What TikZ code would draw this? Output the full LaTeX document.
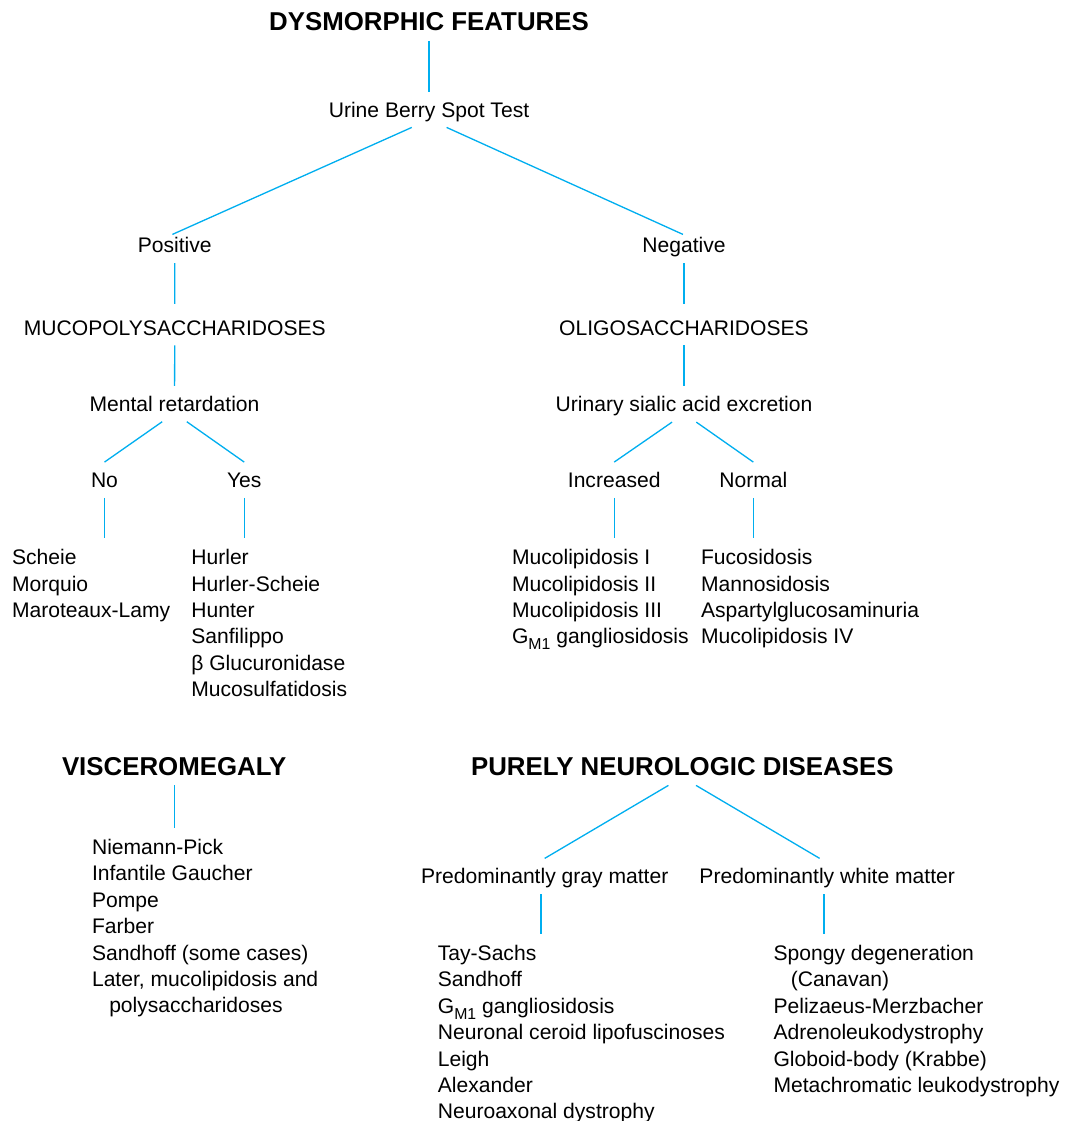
\documentclass[tikz,border=0pt]{standalone}
\usepackage{fontspec}
\setmainfont{Liberation Sans}
\definecolor{treeblue}{RGB}{0,174,239}
\newcommand{\gmone}{G\raisebox{-0.28em}{\fontsize{9pt}{9pt}\selectfont M1}}

\begin{document}
\begin{tikzpicture}[x=0.02cm, y=-0.02cm,
  heading/.style={font=\fontsize{14.7pt}{17pt}\selectfont\bfseries, inner xsep=0pt, inner ysep=5.7pt, text height=10.5pt, text depth=0pt},
  lbl/.style={font=\fontsize{12pt}{15pt}\selectfont, inner xsep=0pt, inner ysep=5.7pt, text height=8.6pt, text depth=0pt},
  lst/.style={font=\fontsize{12pt}{15pt}\selectfont, align=left, inner sep=0pt, anchor=north west},
  conn/.style={draw=treeblue, line width=0.75pt},
  tolist/.style={conn, shorten >=6.5pt}]
\useasboundingbox (0,0) rectangle (1068,1121);

% Dysmorphic features tree
\node[heading] (dysm) at (429,21.2) {DYSMORPHIC FEATURES};
\node[lbl] (berry) at (429,109.5) {Urine Berry Spot Test};
\node[lbl] (pos) at (174.7,245.3) {Positive};
\node[lbl] (neg) at (684,245.3) {Negative};
\node[lbl] (mps) at (174.8,327.5) {MUCOPOLYSACCHARIDOSES};
\node[lbl] (oligo) at (684,327.5) {OLIGOSACCHARIDOSES};
\node[lbl] (mental) at (174.5,403.8) {Mental retardation};
\node[lbl] (sialic) at (684,404.2) {Urinary sialic acid excretion};
\node[lbl] (no) at (104.5,480) {No};
\node[lbl] (yes) at (244.2,480) {Yes};
\node[lbl] (incr) at (614.2,480) {Increased};
\node[lbl] (normal) at (753.3,480) {Normal};

% Disease lists
\node[lst] (noList) at (11.7,549.3) {Scheie\\Morquio\\Maroteaux-Lamy};
\node[lst] (yesList) at (191,549.3) {Hurler\\Hurler-Scheie\\Hunter\\Sanfilippo\\β Glucuronidase\\Mucosulfatidosis};
\node[lst] (incrList) at (511.7,549.3) {Mucolipidosis I\\Mucolipidosis II\\Mucolipidosis III\\\gmone{} gangliosidosis};
\node[lst] (normList) at (700.7,549.3) {Fucosidosis\\Mannosidosis\\Aspartylglucosaminuria\\Mucolipidosis IV};

% Connectors
\draw[conn] (dysm) -- (berry);
\draw[conn] ([xshift=-9.8pt]berry.south) -- ([xshift=-1.3pt,yshift=-4pt]pos.north);
\draw[conn] ([xshift=10pt]berry.south) -- ([xshift=-0.6pt,yshift=-4pt]neg.north);
\draw[conn] (pos) -- ([yshift=3.2pt]mps.north);
\draw[conn] (neg) -- ([yshift=3.2pt]oligo.north);
\draw[conn] (mps) -- (mental);
\draw[conn] (oligo) -- (sialic);
\draw[conn] ([xshift=-7pt]mental.south) -- (no.north);
\draw[conn] ([xshift=7pt]mental.south) -- (yes.north);
\draw[conn] ([xshift=-6.8pt]sialic.south) -- (incr.north);
\draw[conn] ([xshift=7pt]sialic.south) -- (normal.north);
\draw[tolist] (no) -- (no |- noList.north);
\draw[tolist] (yes) -- (yes |- yesList.north);
\draw[tolist] (incr) -- (incr |- incrList.north);
\draw[tolist] (normal) -- (normal |- normList.north);

% Visceromegaly
\node[heading] (visc) at (174.2,765.8) {VISCEROMEGALY};
\node[lst] (viscList) at (91.7,839) {Niemann-Pick\\Infantile Gaucher\\Pompe\\Farber\\Sandhoff (some cases)\\Later, mucolipidosis and\\\hspace*{9.8pt}polysaccharidoses};
\draw[tolist] (visc) -- (visc |- viscList.north);

% Purely neurologic diseases
\node[heading] (neuro) at (682.3,765.8) {PURELY NEUROLOGIC DISEASES};
\node[lbl] (gray) at (544.7,876.3) {Predominantly gray matter};
\node[lbl] (white) at (827.2,876.3) {Predominantly white matter};
\node[lst] (grayList) at (437.5,945) {Tay-Sachs\\Sandhoff\\\gmone{} gangliosidosis\\Neuronal ceroid lipofuscinoses\\Leigh\\Alexander\\Neuroaxonal dystrophy};
\node[lst] (whiteList) at (773.2,945) {Spongy degeneration\\\hspace*{9.8pt}(Canavan)\\Pelizaeus-Merzbacher\\Adrenoleukodystrophy\\Globoid-body (Krabbe)\\Metachromatic leukodystrophy};
\coordinate (grayFoot) at ([xshift=-2.1pt]gray.south);
\coordinate (whiteFoot) at ([xshift=-1.8pt]white.south);
\draw[conn] ([xshift=-7.9pt]neuro.south) -- (gray.north);
\draw[conn] ([xshift=7.8pt]neuro.south) -- ([xshift=-4.3pt]white.north);
\draw[tolist] (grayFoot) -- (grayFoot |- grayList.north);
\draw[tolist] (whiteFoot) -- (whiteFoot |- whiteList.north);
\end{tikzpicture}
\end{document}
